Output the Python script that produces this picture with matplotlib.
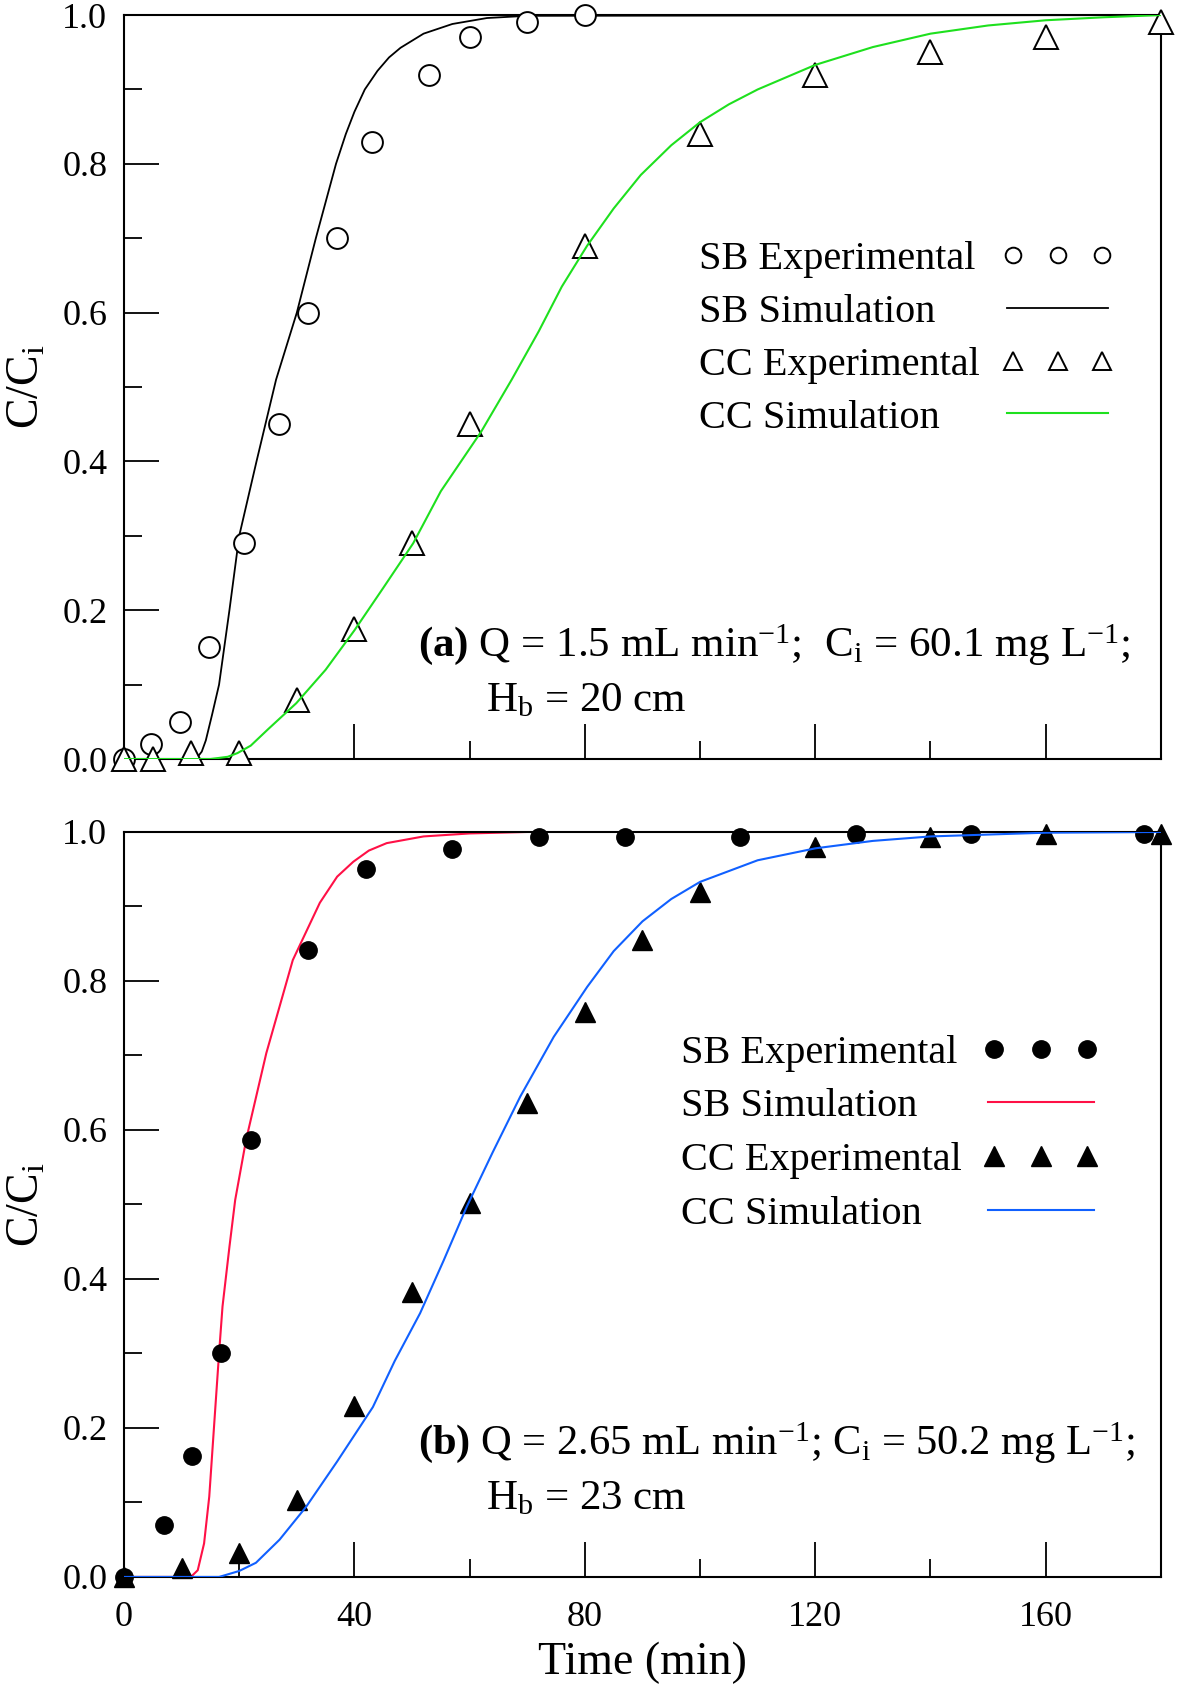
import matplotlib
matplotlib.use("Agg")
import matplotlib.pyplot as plt
from matplotlib.ticker import MultipleLocator
from matplotlib.legend_handler import HandlerLine2D

plt.rcParams['font.family'] = ['Liberation Serif', 'DejaVu Serif']
plt.rcParams['mathtext.fontset'] = 'custom'
plt.rcParams['mathtext.rm'] = 'Liberation Serif'
plt.rcParams['mathtext.it'] = 'Liberation Serif:italic'
plt.rcParams['mathtext.bf'] = 'Liberation Serif:bold'

# ---- panel (a) ----
sb_exp_t_a = [0, 4.7, 9.8, 14.7, 20.9, 26.9, 32, 37, 43, 53, 60, 70, 80]
sb_exp_a = [0, 0.02, 0.05, 0.15, 0.29, 0.45, 0.60, 0.70, 0.83, 0.92, 0.97, 0.99, 1.0]
cc_exp_t_a = [0, 5, 11.7, 20, 30, 40, 50, 60, 80, 100, 120, 140, 160, 180]
cc_exp_a = [0, 0, 0.008, 0.008, 0.079, 0.175, 0.29, 0.45, 0.69, 0.84, 0.92, 0.95, 0.97, 0.99]

sb_sim_t_a = [0, 12.5, 13.5, 14.2, 15.3, 16.5, 18.3, 20, 23, 26.4, 30, 33.3, 36.8,
              38.5, 40, 41.8, 44, 46, 48, 52, 57, 63, 70, 180]
sb_sim_a = [0, 0, 0.01, 0.025, 0.06, 0.10, 0.20, 0.30, 0.40, 0.51, 0.60, 0.70, 0.80,
            0.84, 0.87, 0.90, 0.925, 0.943, 0.956, 0.975, 0.988, 0.996, 0.999, 1.0]
cc_sim_t_a = [0, 15, 18, 19.7, 22, 25, 29.9, 35, 40, 45, 50.2, 55, 62, 67.3, 72, 76, 80.4,
              85, 89.7, 95, 100, 105, 110, 120, 130, 140, 150, 160, 170, 180]
cc_sim_a = [0, 0, 0.003, 0.008, 0.018, 0.04, 0.075, 0.12, 0.173, 0.23, 0.29, 0.36, 0.44,
            0.51, 0.575, 0.635, 0.69, 0.74, 0.785, 0.825, 0.856, 0.88, 0.90, 0.933, 0.957,
            0.975, 0.986, 0.993, 0.997, 1.0]

# ---- panel (b) ----
sb_exp_t_b = [0, 7, 11.8, 16.9, 22, 32, 42, 57, 72, 87, 107, 127, 147, 177]
sb_exp_b = [0, 0.07, 0.162, 0.30, 0.587, 0.842, 0.95, 0.977, 0.993, 0.993, 0.993, 0.997, 0.997, 0.997]
cc_exp_t_b = [0, 10, 20, 30, 40, 50, 60, 70, 80, 90, 100, 120, 140, 160, 180]
cc_exp_b = [0, 0.012, 0.032, 0.103, 0.23, 0.383, 0.502, 0.636, 0.758, 0.855, 0.92, 0.98, 0.993, 0.997, 0.997]

sb_sim_t_b = [0, 11.6, 12.8, 13.9, 14.8, 15.7, 16.5, 17.1, 18.3, 19.3, 21.2, 24.7, 29.3,
              34, 37, 39.8, 42.5, 45.6, 52, 60, 70, 180]
sb_sim_b = [0, 0, 0.009, 0.045, 0.108, 0.21, 0.30, 0.363, 0.443, 0.506, 0.587, 0.703, 0.828,
            0.905, 0.94, 0.96, 0.975, 0.985, 0.994, 0.998, 1.0, 1.0]
cc_sim_t_b = [0, 16.5, 20, 22.9, 27, 31.6, 37, 43.2, 47, 51.4, 55.5, 59.5, 64, 68.8, 74.6,
              80.4, 85, 90, 95, 100, 110, 120, 130, 140, 160, 180]
cc_sim_b = [0, 0, 0.008, 0.019, 0.05, 0.094, 0.155, 0.228, 0.29, 0.354, 0.425, 0.497, 0.57,
            0.645, 0.725, 0.792, 0.84, 0.88, 0.91, 0.933, 0.962, 0.978, 0.988, 0.994, 0.999, 1.0]

labels = ["SB Experimental", "SB Simulation", "CC Experimental", "CC Simulation"]
y_ticks = [0.0, 0.2, 0.4, 0.6, 0.8, 1.0]
x_ticks = [0, 40, 80, 120, 160]

fig = plt.figure(figsize=(11.81, 16.92), dpi=100)
ax1 = fig.add_axes([0.105, 0.5514, 0.878, 0.4397])
ax2 = fig.add_axes([0.105, 0.0680, 0.878, 0.4403])


def style_axes(ax, show_xlabels):
    ax.set_xlim(0, 180)
    ax.set_ylim(0, 1.0)
    ax.set_yticks(y_ticks)
    ax.set_yticklabels(["%.1f" % v for v in y_ticks])
    ax.set_xticks(x_ticks)
    ax.xaxis.set_minor_locator(MultipleLocator(20))
    ax.yaxis.set_minor_locator(MultipleLocator(0.1))
    ax.tick_params(which='major', direction='in', length=25, width=1.3,
                   labelsize=26, pad=12, top=False, right=False)
    ax.tick_params(axis='x', which='major', pad=17)
    ax.tick_params(which='minor', direction='in', length=13, width=1.3,
                   top=False, right=False)
    for s in ax.spines.values():
        s.set_linewidth(1.5)
    if not show_xlabels:
        ax.tick_params(axis='x', labelbottom=False)
    ax.set_ylabel(r"C/C$_\mathrm{i}$", fontsize=33, labelpad=10)


def two_part_legend(ax, handles, sims, text_x, handle_x, y, hlen, spacing, mscale):
    # left-aligned labels, handles in their own column on the right
    common = dict(loc='upper left', frameon=False, fontsize=29, labelspacing=spacing,
                  borderpad=0, borderaxespad=0, numpoints=3)
    leg_text = ax.legend(handles, labels, bbox_to_anchor=(text_x, y),
                         handlelength=0, handletextpad=0, **common)
    for h in leg_text.legend_handles:
        h.set_visible(False)
    ax.add_artist(leg_text)
    hmap = {s: HandlerLine2D(numpoints=2, marker_pad=0.15) for s in sims}
    ax.legend(handles, [""] * len(handles), bbox_to_anchor=(handle_x, y),
              handlelength=hlen, handletextpad=0, markerscale=mscale,
              handler_map=hmap, **common)


# panel (a)
h1, = ax1.plot(sb_exp_t_a, sb_exp_a, 'o', ms=15, mfc='white', mec='black', mew=1.4,
               clip_on=False, zorder=4)
h2, = ax1.plot(sb_sim_t_a, sb_sim_a, '-', color='black', lw=1.3)
h3, = ax1.plot(cc_exp_t_a, cc_exp_a, '^', ms=17, mfc='white', mec='black', mew=1.4,
               clip_on=False, zorder=4)
h4, = ax1.plot(cc_sim_t_a, cc_sim_a, '-', color='#1ee01e', lw=1.5, zorder=5)
style_axes(ax1, False)
two_part_legend(ax1, [h1, h2, h3, h4], [h2, h4], 0.555, 0.8453, 0.696, 2.83, 0.385, 0.75)
ax1.text(0.2835, 0.154,
         r"$\mathbf{(a)}$ Q = 1.5 mL min$^{-1}$;  C$_\mathrm{i}$ = 60.1 mg L$^{-1}$;",
         transform=ax1.transAxes, fontsize=31, va='center', ha='left')
ax1.text(0.349, 0.078, r"H$_\mathrm{b}$ = 20 cm",
         transform=ax1.transAxes, fontsize=31, va='center', ha='left')

# panel (b)
g1, = ax2.plot(sb_exp_t_b, sb_exp_b, 'o', ms=12.5, color='black', clip_on=False, zorder=4)
g2, = ax2.plot(sb_sim_t_b, sb_sim_b, '-', color='#ff1046', lw=1.5)
g3, = ax2.plot(cc_exp_t_b, cc_exp_b, '^', ms=14, color='black', clip_on=False, zorder=4)
g4, = ax2.plot(cc_sim_t_b, cc_sim_b, '-', color='#1060ff', lw=1.5, zorder=5)
style_axes(ax2, True)
ax2.set_xlabel("Time (min)", fontsize=33, labelpad=6)
two_part_legend(ax2, [g1, g2, g3, g4], [g2, g4], 0.537, 0.827, 0.728, 2.93, 0.41, 1.0)
ax2.text(0.2835, 0.180,
         r"$\mathbf{(b)}$ Q = 2.65 mL min$^{-1}$; C$_\mathrm{i}$ = 50.2 mg L$^{-1}$;",
         transform=ax2.transAxes, fontsize=30.6, va='center', ha='left')
ax2.text(0.349, 0.105, r"H$_\mathrm{b}$ = 23 cm",
         transform=ax2.transAxes, fontsize=31, va='center', ha='left')

fig.savefig("out.png", dpi=100)
